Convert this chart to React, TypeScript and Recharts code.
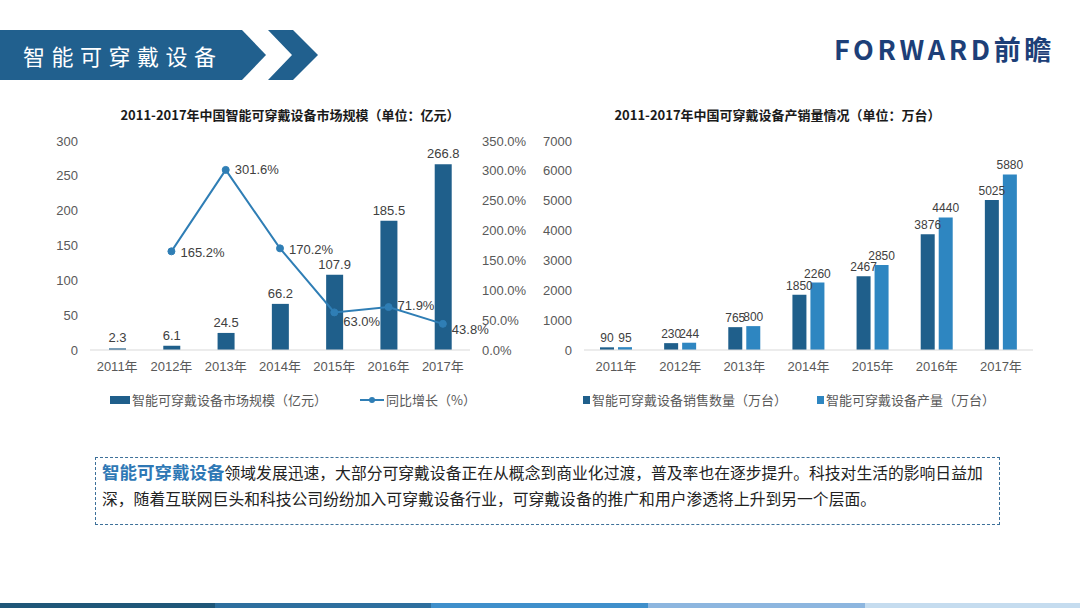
import React from 'react';
import { ComposedChart, BarChart, Bar, Line, XAxis, YAxis, Legend, LabelList } from 'recharts';

// ---------- data ----------
const years = ['2011年', '2012年', '2013年', '2014年', '2015年', '2016年', '2017年'];
const marketSize = [2.3, 6.1, 24.5, 66.2, 107.9, 185.5, 266.8];
const growthPct: (number | null)[] = [null, 165.2, 301.6, 170.2, 63.0, 71.9, 43.8];
const salesUnits = [90, 230, 765, 1850, 2467, 3876, 5025];
const productionUnits = [95, 244, 800, 2260, 2850, 4440, 5880];

const leftTicks = [0, 50, 100, 150, 200, 250, 300];
const pctTicks = [0, 50, 100, 150, 200, 250, 300, 350];
const unitTicks = [0, 1000, 2000, 3000, 4000, 5000, 6000, 7000];

const leftTitle = '2011-2017年中国智能可穿戴设备市场规模（单位：亿元）';
const rightTitle = '2011-2017年中国可穿戴设备产销量情况（单位：万台）';
const leftSeriesNames = ['智能可穿戴设备市场规模（亿元）', '同比增长（%）'];
const rightSeriesNames = ['智能可穿戴设备销售数量（万台）', '智能可穿戴设备产量（万台）'];

const marketData = years.map((y, i) => ({ year: y, size: marketSize[i], growth: growthPct[i] }));
const unitData = years.map((y, i) => ({ year: y, sales: salesUnits[i], production: productionUnits[i] }));

// ---------- style ----------
const FONT = '"Liberation Sans", "Noto Sans CJK SC", sans-serif';
const CJK = '"Noto Sans CJK SC", "Liberation Sans", sans-serif';
const DARK = '#1F5F8B';
const LIGHT = '#2E86C1';
const LINE = '#2F7EB5';
const AXIS_TXT = '#595959';
const growthLabelDy = [0, 1, 0, 1, 9, -2, 6];

const GrowthLabel = (props: any) => {
  const { x, y, value, index } = props;
  if (value == null) return null;
  return (
    <text x={x + 9} y={y + growthLabelDy[index]} dy="0.35em" fontSize={13} fill="#404040" fontFamily={FONT}>
      {`${Number(value).toFixed(1)}%`}
    </text>
  );
};

const LeftLegend = () => (
  <div style={{ position: 'relative', width: 540, height: 20, fontFamily: CJK, fontSize: 13, color: AXIS_TXT }}>
    <span style={{ position: 'absolute', left: 110, top: 6, width: 20, height: 8, background: DARK }} />
    <span style={{ position: 'absolute', left: 132, top: 0, lineHeight: '20px', whiteSpace: 'nowrap' }}>{leftSeriesNames[0]}</span>
    <svg style={{ position: 'absolute', left: 360, top: 4 }} width={24} height={12}>
      <line x1={0} y1={6} x2={24} y2={6} stroke={LINE} strokeWidth={2} />
      <circle cx={12} cy={6} r={3} fill={LINE} />
    </svg>
    <span style={{ position: 'absolute', left: 386, top: 0, lineHeight: '20px', whiteSpace: 'nowrap' }}>{leftSeriesNames[1]}</span>
  </div>
);

const RightLegend = () => (
  <div style={{ position: 'relative', width: 540, height: 20, fontFamily: CJK, fontSize: 13, color: AXIS_TXT }}>
    <span style={{ position: 'absolute', left: 43, top: 6, width: 7, height: 8, background: DARK }} />
    <span style={{ position: 'absolute', left: 52, top: 0, lineHeight: '20px', whiteSpace: 'nowrap' }}>{rightSeriesNames[0]}</span>
    <span style={{ position: 'absolute', left: 277, top: 6, width: 7, height: 8, background: LIGHT }} />
    <span style={{ position: 'absolute', left: 286, top: 0, lineHeight: '20px', whiteSpace: 'nowrap' }}>{rightSeriesNames[1]}</span>
  </div>
);

const tickStyle = { fontSize: 13, fill: AXIS_TXT, fontFamily: FONT };

export default function App() {
  return (
    <div style={{ position: 'absolute', left: 0, top: 0, width: 1080, height: 608, background: '#fff', overflow: 'hidden', fontFamily: CJK }}>
      {/* header band */}
      <svg style={{ position: 'absolute', left: 0, top: 0 }} width={340} height={100}>
        <polygon points="0,30 242,30 266,55 242,80 0,80" fill="#21608E" />
        <polygon points="268,30 293,30 318,55 293,80 268,80 292,55" fill="#21608E" />
      </svg>
      <div style={{ position: 'absolute', left: 23, top: 40, fontSize: 22, lineHeight: '30px', color: '#fff', letterSpacing: 6.5, fontFamily: CJK }}>
        智能可穿戴设备
      </div>
      {/* logo */}
      <div style={{ position: 'absolute', left: 834, top: 31, fontSize: 27, lineHeight: '36px', fontWeight: 700, color: '#1D3F78', letterSpacing: 3.6, fontFamily: CJK, whiteSpace: 'nowrap' }}>
        FORWARD前瞻
      </div>

      {/* titles */}
      <div style={{ position: 'absolute', left: 40, width: 500, top: 106, textAlign: 'center', fontSize: 13, fontWeight: 700, color: '#1a1a1a', lineHeight: '18px' }}>{leftTitle}</div>
      <div style={{ position: 'absolute', left: 540, width: 475, top: 106, textAlign: 'center', fontSize: 13, fontWeight: 700, color: '#1a1a1a', lineHeight: '18px' }}>{rightTitle}</div>

      {/* left chart */}
      <div style={{ position: 'absolute', left: 0, top: 100 }}>
        <ComposedChart width={540} height={320} data={marketData} margin={{ top: 41, right: 0, bottom: 40, left: 0 }} barCategoryGap={0}>
          <XAxis dataKey="year" axisLine={{ stroke: '#D9D9D9' }} tickLine={false} tick={tickStyle} tickMargin={6} height={30} />
          <YAxis yAxisId="left" width={90} domain={[0, 300]} ticks={leftTicks} axisLine={false} tickLine={false} tick={tickStyle} tickMargin={6} />
          <YAxis yAxisId="right" orientation="right" width={70} domain={[0, 350]} ticks={pctTicks} axisLine={false} tickLine={false} tick={tickStyle} tickMargin={6}
            tickFormatter={(v: number) => `${v.toFixed(1)}%`} />
          <Bar yAxisId="left" dataKey="size" name={leftSeriesNames[0]} fill={DARK} barSize={17} isAnimationActive={false}>
            <LabelList dataKey="size" position="top" offset={6} style={{ fontSize: 13, fill: '#404040', fontFamily: FONT }} />
          </Bar>
          <Line yAxisId="right" dataKey="growth" name={leftSeriesNames[1]} stroke={LINE} strokeWidth={2}
            dot={{ r: 3.5, fill: LINE, stroke: LINE, strokeWidth: 1 }} isAnimationActive={false}>
            <LabelList dataKey="growth" content={GrowthLabel} />
          </Line>
          <Legend layout="horizontal" verticalAlign="middle" align="center" wrapperStyle={{ top: 290, left: 0, width: 540, height: 20 }} content={() => <LeftLegend />} />
        </ComposedChart>
      </div>

      {/* right chart */}
      <div style={{ position: 'absolute', left: 540, top: 100 }}>
        <BarChart width={540} height={320} data={unitData} margin={{ top: 41, right: 47, bottom: 40, left: 0 }} barGap={4}>
          <XAxis dataKey="year" axisLine={{ stroke: '#D9D9D9' }} tickLine={false} tick={tickStyle} tickMargin={6} height={30} />
          <YAxis width={44} domain={[0, 7000]} ticks={unitTicks} axisLine={false} tickLine={false} tick={tickStyle} tickMargin={6} />
          <Bar dataKey="sales" name={rightSeriesNames[0]} fill={DARK} barSize={14} isAnimationActive={false}>
            <LabelList dataKey="sales" position="top" offset={5} style={{ fontSize: 12, fill: '#404040', fontFamily: FONT }} />
          </Bar>
          <Bar dataKey="production" name={rightSeriesNames[1]} fill={LIGHT} barSize={14} isAnimationActive={false}>
            <LabelList dataKey="production" position="top" offset={5} style={{ fontSize: 12, fill: '#404040', fontFamily: FONT }} />
          </Bar>
          <Legend layout="horizontal" verticalAlign="middle" align="center" wrapperStyle={{ top: 290, left: 0, width: 540, height: 20 }} content={() => <RightLegend />} />
        </BarChart>
      </div>

      {/* text box */}
      <div style={{ position: 'absolute', left: 95, top: 457, width: 905, height: 68, boxSizing: 'border-box', border: '1.5px dashed #3D7099', padding: '1px 6px', fontFamily: CJK, fontSize: 15.8, lineHeight: '26px', color: '#222' }}>
        <div style={{ whiteSpace: 'nowrap' }}>
          <span style={{ fontWeight: 700, color: '#2E78B5', fontSize: 17.5 }}>智能可穿戴设备</span>领域发展迅速，大部分可穿戴设备正在从概念到商业化过渡，普及率也在逐步提升。科技对生活的影响日益加
        </div>
        <div style={{ whiteSpace: 'nowrap' }}>深，随着互联网巨头和科技公司纷纷加入可穿戴设备行业，可穿戴设备的推广和用户渗透将上升到另一个层面。</div>
      </div>

      {/* bottom bar */}
      <div style={{ position: 'absolute', left: 0, top: 603, width: 1080, height: 5, display: 'flex' }}>
        <div style={{ width: 215, background: '#1F5678' }} />
        <div style={{ width: 216, background: '#2E6F9E' }} />
        <div style={{ width: 217, background: '#3F8FCB' }} />
        <div style={{ width: 217, background: '#8DB6DF' }} />
        <div style={{ flex: 1, background: '#C5DCEF' }} />
      </div>
    </div>
  );
}
